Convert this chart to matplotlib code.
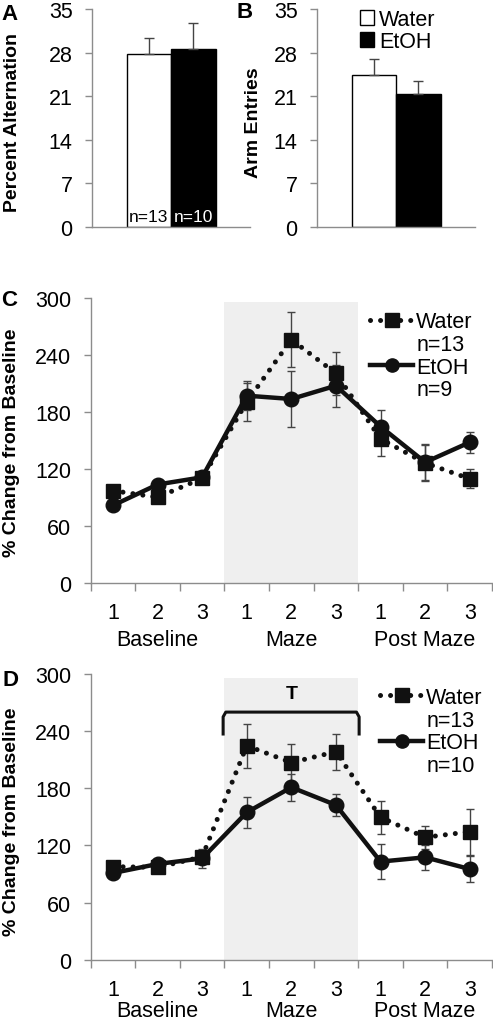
import numpy as np
import matplotlib
matplotlib.use('Agg')
import matplotlib.pyplot as plt
from matplotlib.patches import Patch
from matplotlib.lines import Line2D

plt.rcParams['font.family'] = ['Liberation Sans', 'DejaVu Sans']

# Panel A / B bar data
groups = ['Water', 'EtOH']
bar_colors = ['white', 'black']
alt_mean = [27.8, 28.6]
alt_sem = [2.5, 4.1]
entries_mean = [24.4, 21.4]
entries_sem = [2.6, 2.1]
n_labels = ['n=13', 'n=10']

# Panel C / D line data (9 sessions)
sessions = np.arange(1, 10)
tick_names = ['1', '2', '3'] * 3
phase_names = ['Baseline', 'Maze', 'Post Maze']
phase_centers = [2, 5, 8]

c_water = [97.5, 90.5, 110.5, 191, 256.5, 221, 152, 126.7, 110]
c_water_err = [5, 5, 4, 20, 29, 23, 18, 19, 10]
c_etoh = [82, 104, 111.6, 197.5, 194, 208, 165, 127.4, 148.4]
c_etoh_err = [4, 4, 4, 15, 29, 22, 17, 19, 11]

d_water = [97.7, 97, 108, 224.7, 207, 218.4, 149.5, 128.5, 134.4]
d_water_err = [4, 4, 6, 23, 19, 19, 17, 12, 24]
d_etoh = [91, 100.5, 106.4, 154.7, 181, 162.4, 103, 107.5, 95.2]
d_etoh_err = [3, 3, 10, 16, 14, 12, 18, 13, 14]

GRAY = '#8c8c8c'
DOTS = (0, (0.01, 2.0))
FS = 15.5
W, H = 493, 1020
fig = plt.figure(figsize=(W / 100, H / 100), dpi=100)


def px_axes(left, right, top, bottom):
    return fig.add_axes([left / W, 1 - bottom / H, (right - left) / W, (bottom - top) / H])


def style_axes(ax):
    for s in ['top', 'right']:
        ax.spines[s].set_visible(False)
    for s in ['left', 'bottom']:
        ax.spines[s].set_color(GRAY)
        ax.spines[s].set_linewidth(1)
    ax.tick_params(axis='y', colors=GRAY, labelcolor='black', labelsize=FS, length=5, width=1, pad=9)


def bar_panel(ax, means, sems):
    style_axes(ax)
    x = np.arange(len(means))
    ax.bar(x, means, width=1, color=bar_colors, edgecolor='black', linewidth=1, zorder=2)
    ax.errorbar(x, means, yerr=[np.zeros(len(sems)), sems], fmt='none', ecolor='#444444',
                elinewidth=1, capsize=3.5, capthick=1, zorder=3)
    ax.set_xlim(-1.28, 2.27)
    ax.set_ylim(0, 35)
    ax.set_yticks(np.arange(0, 36, 7))
    ax.set_xticks([])
    return x


axA = px_axes(92, 250, 10, 228)
xa = bar_panel(axA, alt_mean, alt_sem)
for xi, lab, col in zip(xa, n_labels, ['black', 'white']):
    axA.text(xi, 1.7, lab, ha='center', va='center', fontsize=12.5, color=col, zorder=4)

axB = px_axes(317, 475, 10, 228)
bar_panel(axB, entries_mean, entries_sem)
handles = [Patch(facecolor=c, edgecolor='black', linewidth=1) for c in bar_colors]
legB = axB.legend(handles, groups, loc='upper left', bbox_to_anchor=(0.27, 1.0), frameon=False,
                  fontsize=FS, handlelength=0.65, handleheight=0.65, handletextpad=0.25,
                  labelspacing=0.05, borderaxespad=0, borderpad=0)

fig.text(10 / W, 1 - 14 / H, 'A', fontsize=16, fontweight='bold', ha='center', va='center')
fig.text(245 / W, 1 - 13 / H, 'B', fontsize=16, fontweight='bold', ha='center', va='center')
fig.text(13 / W, 1 - 122 / H, 'Percent Alternation', rotation=90, fontsize=14,
         fontweight='bold', ha='center', va='center')
fig.text(253 / W, 1 - 123 / H, 'Arm Entries', rotation=90, fontsize=14,
         fontweight='bold', ha='center', va='center')


def line_panel(ax, water, water_err, etoh, etoh_err, n_water, n_etoh, phase_y, leg_x):
    style_axes(ax)
    ax.axvspan(3.5, 6.5, ymin=0, ymax=296 / 300, color='#efefef', zorder=0, lw=0)
    ax.errorbar(sessions, water, yerr=water_err, fmt='none', ecolor='#444444',
                elinewidth=1, capsize=3, capthick=1, zorder=2)
    ax.errorbar(sessions, etoh, yerr=etoh_err, fmt='none', ecolor='#444444',
                elinewidth=1, capsize=3, capthick=1, zorder=2)
    ax.plot(sessions, water, color='#111111', linestyle=DOTS, linewidth=3.6,
            dash_capstyle='round', marker='s', markersize=10.5, zorder=3)
    ax.plot(sessions, etoh, color='#111111', linestyle='-', linewidth=3.2,
            marker='o', markersize=10.5, zorder=4)
    ax.set_xlim(0.5, 9.5)
    ax.set_ylim(0, 300)
    ax.set_yticks(np.arange(0, 301, 60))
    ax.set_xticks(np.arange(0.5, 9.6, 1))
    ax.set_xticklabels([])
    ax.tick_params(axis='x', colors=GRAY, length=6, width=1, direction='out')
    for xi, t in zip(sessions, tick_names):
        ax.text(xi, -0.104, t, transform=ax.get_xaxis_transform(), ha='center', va='center',
                fontsize=FS)
    for xc, t in zip(phase_centers, phase_names):
        ax.text(xc, phase_y, t, transform=ax.get_xaxis_transform(), ha='center', va='center',
                fontsize=FS)
    hw = Line2D([], [], color='#111111', linestyle=DOTS, linewidth=3.6,
                dash_capstyle='round', marker='s', markersize=9.5)
    he = Line2D([], [], color='#111111', linestyle='-', linewidth=3.2, marker='o', markersize=9.5)
    blank = Line2D([], [], linestyle='none')
    leg = ax.legend([hw, blank, he, blank], ['Water', n_water, 'EtOH', n_etoh], loc='upper left',
                    bbox_to_anchor=(leg_x, 0.955), frameon=False, fontsize=FS, handlelength=2.0,
                    handletextpad=0.15, labelspacing=0.08, borderaxespad=0, borderpad=0)
    return leg


axC = px_axes(90.7, 492, 299.3, 584.3)
line_panel(axC, c_water, c_water_err, c_etoh, c_etoh_err, 'n=13', 'n=9', -0.197, 0.696)

axD = px_axes(90.7, 492, 675, 960.7)
line_panel(axD, d_water, d_water_err, d_etoh, d_etoh_err, 'n=13', 'n=10', -0.177, 0.721)

# significance bracket over maze sessions
bracket_x = (3.47, 6.52)
bracket_y = (237, 260)
bx = [bracket_x[0], bracket_x[0], bracket_x[0] + 0.06, bracket_x[1] - 0.06, bracket_x[1], bracket_x[1]]
by = [bracket_y[0], bracket_y[1] - 5, bracket_y[1], bracket_y[1], bracket_y[1] - 5, bracket_y[0]]
axD.plot(bx, by, color='#111111', linewidth=2.2, solid_joinstyle='round', zorder=5)
axD.text(5, 279, 'T', ha='center', va='center', fontsize=14, fontweight='bold')

fig.text(9 / W, 1 - 300 / H, 'C', fontsize=16, fontweight='bold', ha='center', va='center')
fig.text(10 / W, 1 - 681 / H, 'D', fontsize=16, fontweight='bold', ha='center', va='center')
fig.text(12 / W, 1 - 443 / H, '% Change from Baseline', rotation=90, fontsize=14,
         fontweight='bold', ha='center', va='center')
fig.text(12 / W, 1 - 822 / H, '% Change from Baseline', rotation=90, fontsize=14,
         fontweight='bold', ha='center', va='center')

fig.savefig('out.png', dpi=100, facecolor='white')
